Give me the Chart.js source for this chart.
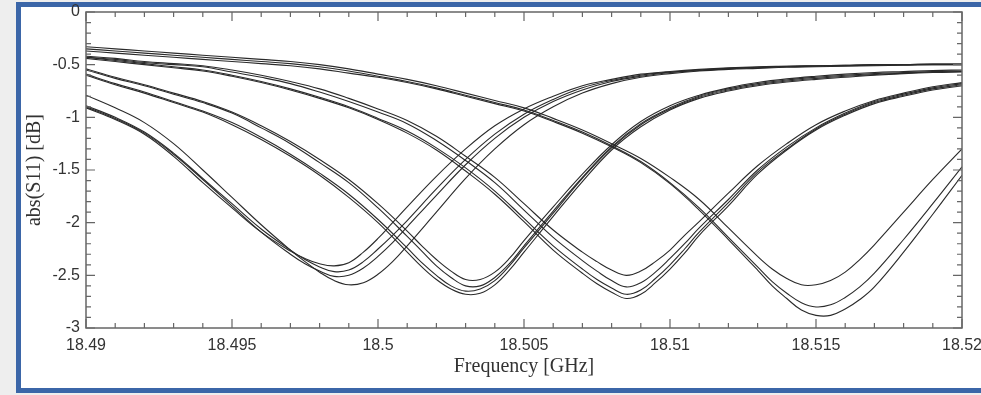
<!DOCTYPE html>
<html>
<head>
<meta charset="utf-8">
<script src="https://cdn.jsdelivr.net/npm/chart.js@4.4.1/dist/chart.umd.min.js"></script>
<style>
  html, body { margin: 0; padding: 0; overflow: hidden; background: #eeeeee; }
  #frame {
    position: absolute; left: 16px; top: 2px; width: 980px; height: 381px;
    border: 5px solid #3b66a8; border-right: none; background: #fff;
  }
  #c { position: absolute; left: 0; top: 0; }
</style>
</head>
<body>
<div id="frame"></div>
<canvas id="c" width="981" height="395"></canvas>
<script>
// frequency samples [GHz], each group has extra half steps round its dip
const freqA = [18.490, 18.491, 18.492, 18.493, 18.494, 18.495, 18.496, 18.497,
  18.4975, 18.498, 18.4985, 18.499, 18.4995, 18.500, 18.5005, 18.501,
  18.502, 18.503, 18.504, 18.505, 18.506, 18.507, 18.508, 18.509, 18.510, 18.511,
  18.512, 18.513, 18.514, 18.515, 18.516, 18.517, 18.518, 18.519, 18.520];
const freqB = [18.490, 18.491, 18.492, 18.493, 18.494, 18.495, 18.496, 18.497, 18.498, 18.499, 18.500, 18.501,
  18.5015, 18.502, 18.5025, 18.503, 18.5035, 18.504, 18.5045, 18.505,
  18.506, 18.507, 18.508, 18.509, 18.510, 18.511, 18.512, 18.513, 18.514, 18.515,
  18.516, 18.517, 18.518, 18.519, 18.520];
const freqC = [18.490, 18.491, 18.492, 18.493, 18.494, 18.495, 18.496, 18.497, 18.498, 18.499,
  18.500, 18.501, 18.502, 18.503, 18.504, 18.505, 18.506, 18.507,
  18.5075, 18.508, 18.5085, 18.509, 18.5095, 18.510, 18.5105, 18.511,
  18.512, 18.513, 18.514, 18.515, 18.516, 18.517, 18.518, 18.519, 18.520];
const freqD = [18.490, 18.491, 18.492, 18.493, 18.494, 18.495, 18.496, 18.497, 18.498, 18.499,
  18.500, 18.501, 18.502, 18.503, 18.504, 18.505, 18.506, 18.507, 18.508, 18.509,
  18.510, 18.511, 18.512, 18.513,
  18.5135, 18.514, 18.5145, 18.515, 18.5155, 18.516, 18.5165, 18.517,
  18.518, 18.519, 18.520];

// abs(S11) [dB], resonance near 18.4986
const a1 = [-0.91, -1.02, -1.16, -1.37, -1.62, -1.86, -2.09, -2.27, -2.34, -2.39, -2.41, -2.38, -2.28, -2.15, -2.00, -1.85,
  -1.56, -1.30, -1.08, -0.92, -0.80, -0.70, -0.64, -0.59, -0.565, -0.545, -0.53, -0.52, -0.515, -0.51, -0.505, -0.50, -0.50, -0.495, -0.495];
const a2 = [-0.89, -1.00, -1.14, -1.34, -1.58, -1.82, -2.06, -2.26, -2.35, -2.42, -2.465, -2.45, -2.37, -2.25, -2.12, -1.98,
  -1.68, -1.40, -1.16, -0.97, -0.83, -0.72, -0.65, -0.60, -0.57, -0.55, -0.535, -0.525, -0.515, -0.51, -0.505, -0.50, -0.50, -0.495, -0.495];
const a3 = [-0.90, -1.01, -1.15, -1.35, -1.59, -1.84, -2.09, -2.30, -2.39, -2.46, -2.51, -2.50, -2.43, -2.32, -2.19, -2.04,
  -1.74, -1.45, -1.20, -1.00, -0.85, -0.74, -0.66, -0.61, -0.575, -0.555, -0.54, -0.53, -0.52, -0.515, -0.51, -0.505, -0.50, -0.50, -0.50];
const a4 = [-0.79, -0.91, -1.05, -1.25, -1.50, -1.76, -2.02, -2.26, -2.37, -2.47, -2.55, -2.59, -2.57, -2.49, -2.37, -2.22,
  -1.90, -1.58, -1.30, -1.07, -0.90, -0.77, -0.68, -0.62, -0.585, -0.56, -0.545, -0.535, -0.525, -0.52, -0.515, -0.51, -0.505, -0.50, -0.50];

// resonance near 18.503
const b1 = [-0.54, -0.62, -0.69, -0.77, -0.85, -0.95, -1.08, -1.23, -1.40, -1.59, -1.82, -2.08,
  -2.22, -2.35, -2.46, -2.54, -2.54, -2.47, -2.34, -2.17,
  -1.85, -1.54, -1.26, -1.04, -0.89, -0.79, -0.72, -0.67, -0.635, -0.61, -0.59, -0.575, -0.565, -0.555, -0.55];
const b2 = [-0.55, -0.63, -0.70, -0.78, -0.86, -0.96, -1.10, -1.25, -1.43, -1.62, -1.86, -2.13,
  -2.27, -2.41, -2.52, -2.60, -2.60, -2.52, -2.39, -2.22,
  -1.89, -1.57, -1.28, -1.06, -0.91, -0.80, -0.73, -0.68, -0.645, -0.62, -0.60, -0.585, -0.575, -0.565, -0.56];
const b3 = [-0.59, -0.68, -0.76, -0.85, -0.94, -1.05, -1.19, -1.35, -1.53, -1.73, -1.97, -2.24,
  -2.38, -2.50, -2.60, -2.65, -2.63, -2.55, -2.41, -2.24,
  -1.91, -1.58, -1.29, -1.07, -0.92, -0.81, -0.74, -0.69, -0.655, -0.63, -0.61, -0.595, -0.58, -0.57, -0.565];
const b4 = [-0.60, -0.69, -0.77, -0.86, -0.95, -1.07, -1.21, -1.37, -1.55, -1.76, -2.00, -2.28,
  -2.42, -2.54, -2.63, -2.68, -2.67, -2.59, -2.45, -2.28,
  -1.94, -1.61, -1.31, -1.09, -0.93, -0.82, -0.75, -0.70, -0.665, -0.64, -0.62, -0.60, -0.585, -0.575, -0.57];

// resonance near 18.5085
const c1 = [-0.42, -0.44, -0.47, -0.49, -0.51, -0.55, -0.60, -0.66, -0.73, -0.82, -0.92, -1.03, -1.18, -1.37, -1.57, -1.82, -2.07, -2.28,
  -2.37, -2.45, -2.50, -2.46, -2.37, -2.26, -2.12, -1.99,
  -1.72, -1.46, -1.25, -1.07, -0.94, -0.84, -0.77, -0.71, -0.67];
const c2 = [-0.43, -0.45, -0.48, -0.50, -0.52, -0.57, -0.62, -0.68, -0.76, -0.85, -0.95, -1.06, -1.22, -1.41, -1.62, -1.88, -2.14, -2.36,
  -2.46, -2.55, -2.61, -2.57, -2.47, -2.34, -2.20, -2.05,
  -1.78, -1.50, -1.28, -1.10, -0.96, -0.85, -0.78, -0.72, -0.68];
const c3 = [-0.43, -0.46, -0.49, -0.52, -0.55, -0.60, -0.66, -0.73, -0.81, -0.90, -1.01, -1.13, -1.29, -1.48, -1.70, -1.96, -2.22, -2.44,
  -2.54, -2.62, -2.68, -2.64, -2.53, -2.40, -2.25, -2.09,
  -1.81, -1.52, -1.30, -1.11, -0.97, -0.86, -0.79, -0.73, -0.69];
const c4 = [-0.44, -0.47, -0.50, -0.53, -0.56, -0.61, -0.67, -0.74, -0.82, -0.91, -1.02, -1.15, -1.31, -1.51, -1.73, -1.99, -2.26, -2.48,
  -2.58, -2.66, -2.72, -2.68, -2.57, -2.44, -2.29, -2.12,
  -1.84, -1.54, -1.31, -1.12, -0.98, -0.87, -0.80, -0.74, -0.70];

// resonance near 18.515
const d1 = [-0.33, -0.35, -0.37, -0.39, -0.41, -0.43, -0.45, -0.47, -0.50, -0.54, -0.59, -0.64, -0.70, -0.77, -0.84, -0.91, -1.01, -1.12, -1.25, -1.39, -1.57, -1.78, -2.05, -2.32,
  -2.44, -2.53, -2.59, -2.59, -2.55, -2.47, -2.35, -2.21,
  -1.90, -1.59, -1.30];
const d2 = [-0.35, -0.37, -0.39, -0.41, -0.43, -0.45, -0.47, -0.49, -0.52, -0.56, -0.61, -0.66, -0.72, -0.79, -0.86, -0.93, -1.03, -1.14, -1.27, -1.42, -1.62, -1.86, -2.14, -2.42,
  -2.56, -2.67, -2.76, -2.80, -2.78, -2.71, -2.61, -2.48,
  -2.16, -1.82, -1.47];
const d3 = [-0.37, -0.39, -0.41, -0.43, -0.45, -0.47, -0.49, -0.51, -0.54, -0.58, -0.62, -0.67, -0.73, -0.80, -0.87, -0.94, -1.04, -1.15, -1.28, -1.43, -1.63, -1.88, -2.16, -2.45,
  -2.60, -2.72, -2.83, -2.88, -2.88, -2.82, -2.73, -2.61,
  -2.28, -1.92, -1.55];

const xTickValues = [18.49, 18.495, 18.5, 18.505, 18.51, 18.515, 18.52];
const yTickValues = [0, -0.5, -1, -1.5, -2, -2.5, -3];
const xMinorStep = 0.001;
const yMinorStep = 0.1;

const curves = [
  [freqA, a1], [freqA, a2], [freqA, a3], [freqA, a4],
  [freqB, b1], [freqB, b2], [freqB, b3], [freqB, b4],
  [freqC, c1], [freqC, c2], [freqC, c3], [freqC, c4],
  [freqD, d1], [freqD, d2], [freqD, d3]
];

const datasets = curves.map(([xs, ys]) => ({
  data: xs.map((x, i) => ({ x: x, y: ys[i] })),
  borderColor: '#2a2a2a',
  borderWidth: 1.1,
  pointRadius: 0,
  fill: false,
  tension: 0.4
}));

// box round the plot with inward ticks on all four sides
const frameTicks = {
  id: 'frameTicks',
  afterDatasetsDraw(chart) {
    const { ctx, chartArea: a, scales: { x, y } } = chart;
    ctx.save();
    ctx.strokeStyle = '#666';
    ctx.lineWidth = 1.5;
    ctx.strokeRect(a.left, a.top, a.right - a.left, a.bottom - a.top);
    ctx.lineWidth = 1.2;
    ctx.beginPath();
    const nx = Math.round((x.max - x.min) / xMinorStep);
    for (let i = 0; i <= nx; i++) {
      const px = x.getPixelForValue(x.min + i * xMinorStep);
      const len = i % 5 === 0 ? 9 : 5;
      ctx.moveTo(px, a.bottom); ctx.lineTo(px, a.bottom - len);
      ctx.moveTo(px, a.top); ctx.lineTo(px, a.top + len);
    }
    const ny = Math.round((y.max - y.min) / yMinorStep);
    for (let i = 0; i <= ny; i++) {
      const py = y.getPixelForValue(y.min + i * yMinorStep);
      const len = i % 5 === 0 ? 9 : 5;
      ctx.moveTo(a.left, py); ctx.lineTo(a.left + len, py);
      ctx.moveTo(a.right, py); ctx.lineTo(a.right - len, py);
    }
    ctx.stroke();
    ctx.restore();
  }
};

const tickFont = { family: "'Liberation Sans', Arial, sans-serif", size: 16 };
const titleFont = { family: "'Liberation Serif', 'Times New Roman', serif", size: 20 };

new Chart(document.getElementById('c'), {
  type: 'line',
  data: { datasets: datasets },
  options: {
    responsive: false,
    animation: false,
    events: [],
    layout: { padding: { top: 12, right: 19, left: 0, bottom: 0 } },
    plugins: { legend: { display: false }, tooltip: { enabled: false } },
    scales: {
      x: {
        type: 'linear',
        min: 18.49,
        max: 18.52,
        afterBuildTicks: (s) => { s.ticks = xTickValues.map(v => ({ value: v })); },
        afterFit: (s) => { s.height = 67; s.paddingLeft = 0; s.paddingRight = 0; },
        grid: { display: false, drawTicks: false },
        border: { display: false },
        ticks: {
          autoSkip: false,
          maxRotation: 0,
          padding: 8,
          color: '#333',
          font: tickFont,
          callback: (v) => String(+v.toFixed(4))
        },
        title: {
          display: true,
          text: 'Frequency [GHz]',
          color: '#333',
          font: titleFont,
          padding: { top: 0, bottom: 16 }
        }
      },
      y: {
        type: 'linear',
        min: -3,
        max: 0,
        afterBuildTicks: (s) => { s.ticks = yTickValues.map(v => ({ value: v })); },
        afterFit: (s) => { s.width = 86; s.paddingTop = 0; s.paddingBottom = 0; },
        grid: { display: false, drawTicks: false },
        border: { display: false },
        ticks: {
          autoSkip: false,
          padding: 6,
          color: '#333',
          font: tickFont,
          callback: (v) => String(+v.toFixed(2))
        },
        title: {
          display: true,
          text: 'abs(S11) [dB]',
          color: '#333',
          font: titleFont,
          padding: { top: 23, bottom: 0 }
        }
      }
    }
  },
  plugins: [frameTicks]
});
</script>
</body>
</html>
